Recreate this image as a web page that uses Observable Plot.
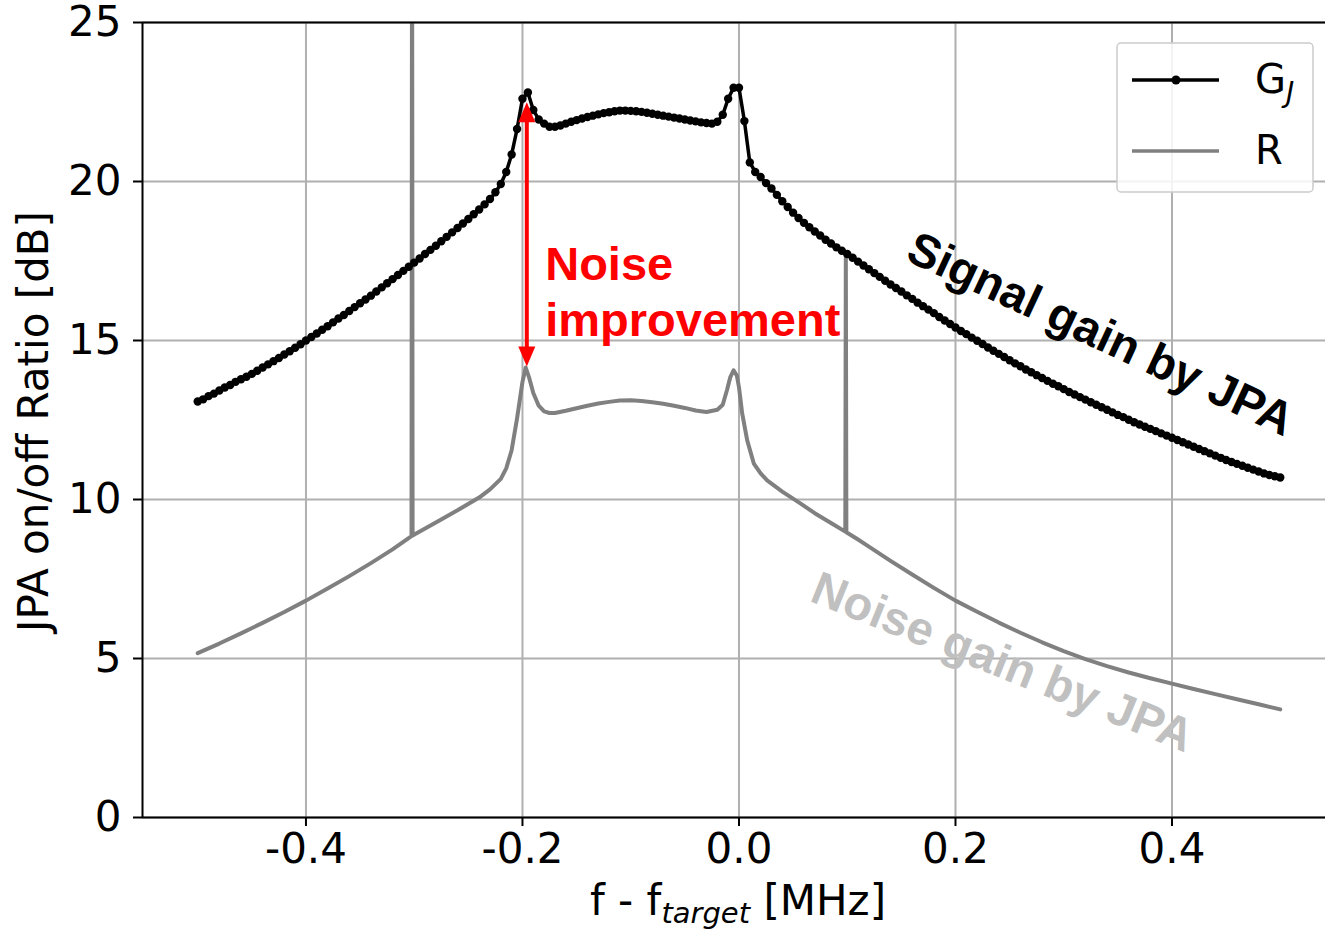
<!DOCTYPE html>
<html>
<head>
<meta charset="utf-8">
<script src="https://cdn.jsdelivr.net/npm/d3@7"></script>
<script src="https://cdn.jsdelivr.net/npm/@observablehq/plot@0.6"></script>
<style>
  html, body { margin: 0; padding: 0; background: #fff; overflow: hidden; }
  #wrap { position: relative; width: 1325px; height: 931px; }
</style>
</head>
<body>
<div id="wrap"></div>
<script>
// Axis ticks and extents
const xTicks = [-0.4, -0.2, 0.0, 0.2, 0.4];
const yTicks = [0, 5, 10, 15, 20, 25];
const xDomain = [-0.551, 0.5418];
const yDomain = [0, 25];

// G_J: measured signal gain, swept from -0.5 to 0.5 MHz in 0.005 MHz steps
const gainStart = -0.5;
const gainStep = 0.005;
const gainValues = [
  13.08, 13.15, 13.25, 13.33, 13.43, 13.52, 13.60, 13.70, 13.78, 13.86,
  13.95, 14.05, 14.15, 14.25, 14.35, 14.45, 14.56, 14.66, 14.77, 14.88,
  15.00, 15.11, 15.22, 15.34, 15.45, 15.57, 15.69, 15.80, 15.93, 16.05,
  16.17, 16.29, 16.41, 16.54, 16.67, 16.80, 16.93, 17.06, 17.19, 17.32,
  17.45, 17.58, 17.72, 17.85, 17.98, 18.12, 18.26, 18.40, 18.54, 18.68,
  18.82, 18.97, 19.12, 19.28, 19.45, 19.66, 19.92, 20.30, 20.85, 21.65,
  22.60, 22.80, 22.25, 21.95, 21.82, 21.72, 21.72, 21.76, 21.82, 21.88,
  21.93, 21.98, 22.03, 22.07, 22.11, 22.15, 22.18, 22.21, 22.23, 22.23,
  22.22, 22.21, 22.19, 22.16, 22.13, 22.10, 22.07, 22.04, 22.01, 21.98,
  21.95, 21.92, 21.89, 21.86, 21.84, 21.82, 21.88, 22.10, 22.60, 22.95,
  22.95, 21.90, 20.60, 20.30, 20.14, 19.95, 19.78, 19.58, 19.38, 19.20,
  19.02, 18.85, 18.70, 18.56, 18.43, 18.30, 18.17, 18.05, 17.93, 17.82,
  17.72, 17.60, 17.48, 17.36, 17.24, 17.12, 17.00, 16.88, 16.76, 16.65,
  16.54, 16.42, 16.31, 16.19, 16.08, 15.97, 15.86, 15.74, 15.63, 15.52,
  15.41, 15.30, 15.20, 15.09, 14.99, 14.89, 14.78, 14.68, 14.58, 14.48,
  14.38, 14.28, 14.19, 14.09, 14.00, 13.91, 13.82, 13.73, 13.64, 13.56,
  13.47, 13.38, 13.30, 13.22, 13.14, 13.06, 12.98, 12.90, 12.82, 12.74,
  12.66, 12.59, 12.51, 12.43, 12.36, 12.29, 12.22, 12.15, 12.08, 12.01,
  11.94, 11.87, 11.80, 11.73, 11.66, 11.59, 11.52, 11.45, 11.38, 11.31,
  11.24, 11.18, 11.12, 11.06, 11.00, 10.94, 10.88, 10.82, 10.77, 10.73,
  10.69
];

// R: noise ratio, with its two narrow spurs near -0.3 and 0.1 MHz
const ratioFreq = [
  -0.500, -0.480, -0.460, -0.440, -0.420, -0.400, -0.380, -0.360, -0.340, -0.320,
  -0.3025, -0.302, -0.3015, -0.280, -0.260, -0.240, -0.230, -0.220, -0.215, -0.210,
  -0.205, -0.200, -0.197, -0.194, -0.190, -0.185, -0.180, -0.175, -0.170, -0.160,
  -0.150, -0.140, -0.130, -0.120, -0.110, -0.100, -0.090, -0.080, -0.070, -0.060,
  -0.050, -0.040, -0.030, -0.020, -0.015, -0.011, -0.008, -0.005, -0.002, 0.000,
  0.003, 0.0076, 0.0137, 0.020, 0.026, 0.040, 0.057, 0.070, 0.085, 0.0982,
  0.0987, 0.0992, 0.110, 0.120, 0.140, 0.160, 0.180, 0.200, 0.220, 0.240,
  0.260, 0.280, 0.300, 0.320, 0.340, 0.360, 0.380, 0.400, 0.420, 0.440,
  0.460, 0.480, 0.500
];
const ratioValues = [
  5.17, 5.47, 5.79, 6.12, 6.46, 6.82, 7.20, 7.59, 8.00, 8.43,
  8.85, 30.0, 8.87, 9.28, 9.66, 10.06, 10.32, 10.65, 10.98, 11.55,
  12.55, 13.70, 14.15, 13.85, 13.35, 12.95, 12.77, 12.72, 12.72, 12.79,
  12.87, 12.95, 13.02, 13.07, 13.11, 13.12, 13.10, 13.06, 13.01, 12.95,
  12.88, 12.80, 12.75, 12.82, 12.98, 13.45, 13.85, 14.06, 13.90, 13.53,
  12.70, 11.86, 11.13, 10.82, 10.60, 10.25, 9.87, 9.57, 9.26, 8.99,
  17.74, 8.97, 8.74, 8.52, 8.07, 7.64, 7.22, 6.82, 6.47, 6.13,
  5.81, 5.51, 5.23, 4.98, 4.76, 4.56, 4.38, 4.21, 4.04, 3.88,
  3.72, 3.56, 3.40
];

// Annotations
const improvementArrow = [{f1: -0.196, g1: 22.49, f2: -0.196, g2: 14.18}];
const improvementLabel = [{f: -0.179, g: 16.59, text: "Noise\nimprovement"}];
const signalLabel = [{f: 0.334, g: 15.19, text: "Signal gain by JPA"}];
const noiseLabel = [{f: 0.2434, g: 4.87, text: "Noise gain by JPA"}];

// Legend entries
const legendItems = [
  {name: "G", sub: "J", color: "black", marker: true},
  {name: "R", sub: "", color: "#808080", marker: false}
];

const gain = gainValues.map((g, i) => ({f: gainStart + i * gainStep, g}));
const ratio = ratioFreq.map((f, i) => ({f, g: ratioValues[i]}));

// Filled arrowheads with the tip at the symbol origin
const headUp = {draw(ctx) { ctx.moveTo(0, 0); ctx.lineTo(-8.5, 20); ctx.lineTo(8.5, 20); ctx.closePath(); }};
const headDown = {draw(ctx) { ctx.moveTo(0, 0); ctx.lineTo(-8.5, -20); ctx.lineTo(8.5, -20); ctx.closePath(); }};

const FONT = "DejaVu Sans";
const BOLD = "Liberation Sans, Arial, sans-serif";

const chart = Plot.plot({
  width: 1325,
  height: 931,
  marginLeft: 142,
  marginRight: 0,
  marginTop: 22,
  marginBottom: 114,
  style: {fontFamily: FONT, fontSize: "42px", color: "black", background: "white"},
  x: {domain: xDomain},
  y: {domain: yDomain},
  marks: [
    Plot.gridX(xTicks, {stroke: "#b0b0b0", strokeOpacity: 1, strokeWidth: 2}),
    Plot.gridY(yTicks, {stroke: "#b0b0b0", strokeOpacity: 1, strokeWidth: 2}),
    Plot.axisX(xTicks, {tickSize: 9, tickPadding: 7, strokeWidth: 2, fontSize: 42, tickFormat: d => d.toFixed(1), label: null}),
    Plot.axisY(yTicks, {tickSize: 9, tickPadding: 12, strokeWidth: 2, fontSize: 42, tickFormat: d => String(d), label: null}),
    Plot.text(noiseLabel, {x: "f", y: "g", text: "text", rotate: 22, textAnchor: "middle", lineAnchor: "middle",
      fill: "#c0c0c0", fontFamily: BOLD, fontWeight: "bold", fontSize: 47}),
    Plot.line(ratio, {x: "f", y: "g", stroke: "#808080", strokeWidth: 4, clip: true}),
    Plot.line(gain, {x: "f", y: "g", stroke: "black", strokeWidth: 3.5}),
    Plot.dot(gain, {x: "f", y: "g", r: 4.2, fill: "black", stroke: "none"}),
    Plot.ruleY([yDomain[0], yDomain[1]], {stroke: "black", strokeWidth: 2}),
    Plot.ruleX([xDomain[0]], {stroke: "black", strokeWidth: 2}),
    Plot.arrow(improvementArrow, {x1: "f1", y1: "g1", x2: "f2", y2: "g2", stroke: "red", strokeWidth: 4, headLength: 0, inset: 10}),
    Plot.dot(improvementArrow, {x: "f1", y: "g1", r: 5, symbol: headUp, fill: "red", stroke: "none"}),
    Plot.dot(improvementArrow, {x: "f2", y: "g2", r: 5, symbol: headDown, fill: "red", stroke: "none"}),
    Plot.text(improvementLabel, {x: "f", y: "g", text: "text", textAnchor: "start", lineAnchor: "middle", lineHeight: 1.2,
      fill: "red", fontFamily: BOLD, fontWeight: "bold", fontSize: 47}),
    Plot.text(signalLabel, {x: "f", y: "g", text: "text", rotate: 25, textAnchor: "middle", lineAnchor: "middle",
      fill: "black", fontFamily: BOLD, fontWeight: "bold", fontSize: 47})
  ]
});

// Axis titles (with subscript)
const svg = d3.select(chart);
svg.append("text")
  .attr("transform", "translate(48,421.5) rotate(-90)")
  .attr("text-anchor", "middle")
  .attr("font-family", FONT).attr("font-size", 42).attr("fill", "black")
  .text("JPA on/off Ratio [dB]");
const xTitle = svg.append("text")
  .attr("x", 738).attr("y", 915)
  .attr("text-anchor", "middle")
  .attr("font-family", FONT).attr("font-size", 42).attr("fill", "black")
  .style("white-space", "pre");
xTitle.append("tspan").text("f - f");
xTitle.append("tspan").attr("font-style", "italic").attr("font-size", 29).attr("dy", 8).text("target");
xTitle.append("tspan").attr("dy", -8).text(" [MHz]");

const wrap = document.getElementById("wrap");
wrap.appendChild(chart);

// Legend box
const leg = d3.create("svg")
  .attr("width", 198).attr("height", 152)
  .style("position", "absolute").style("left", "1116px").style("top", "42px");
leg.append("rect")
  .attr("x", 1).attr("y", 1).attr("width", 196).attr("height", 149).attr("rx", 4)
  .attr("fill", "white").attr("fill-opacity", 0.85)
  .attr("stroke", "#cccccc").attr("stroke-width", 1.5);
legendItems.forEach((d, i) => {
  const cy = 38 + i * 71;
  leg.append("line").attr("x1", 16).attr("x2", 103).attr("y1", cy).attr("y2", cy)
    .attr("stroke", d.color).attr("stroke-width", 3.5);
  if (d.marker) leg.append("circle").attr("cx", 60).attr("cy", cy).attr("r", 4.5).attr("fill", d.color);
  const t = leg.append("text").attr("x", 139).attr("y", cy + 13)
    .attr("font-family", FONT).attr("font-size", 40).attr("fill", "black");
  t.append("tspan").text(d.name);
  if (d.sub) t.append("tspan").attr("font-style", "italic").attr("font-size", 28).attr("dy", 9).text(d.sub);
});
wrap.appendChild(leg.node());
</script>
</body>
</html>
